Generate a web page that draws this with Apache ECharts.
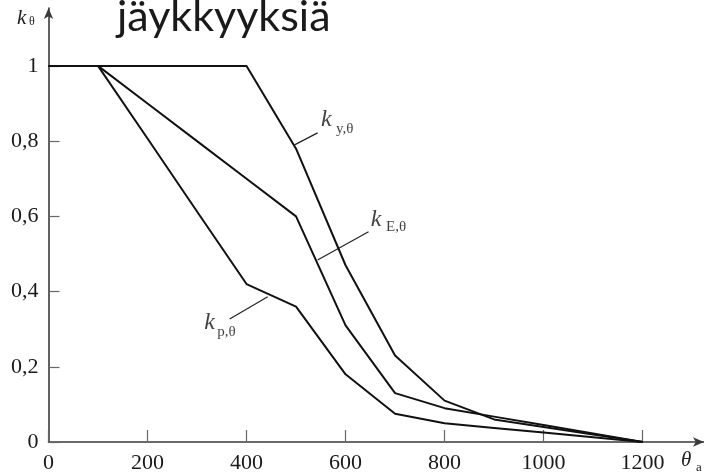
<!DOCTYPE html>
<html>
<head>
<meta charset="utf-8">
<script src="https://cdn.jsdelivr.net/npm/echarts@6/dist/echarts.min.js"></script>
<style>
html,body{margin:0;padding:0;background:#fff;}
#c{width:704px;height:475px;}
</style>
</head>
<body>
<div id="c"></div>
<script>
// Temperatures (°C)
const temps = [0, 100, 200, 300, 400, 500, 600, 700, 800, 900, 1000, 1100, 1200];
// Reduction factors
const kY = [1, 1, 1, 1, 1, 0.78, 0.47, 0.23, 0.11, 0.06, 0.04, 0.02, 0];
const kP = [1, 1, 0.807, 0.613, 0.42, 0.36, 0.18, 0.075, 0.05, 0.0375, 0.025, 0.0125, 0];
const kE = [1, 1, 0.9, 0.8, 0.7, 0.6, 0.31, 0.13, 0.09, 0.0675, 0.045, 0.0225, 0];
// Axis tick labels
const xTicks = [0, 200, 400, 600, 800, 1000, 1200];
const yTicks = [0, 0.2, 0.4, 0.6, 0.8, 1];
// Annotation leaders (data coordinates)
const leaderY = [[497, 0.790], [543.5, 0.822]];
const leaderE = [[543.5, 0.484], [646.4, 0.559]];
const leaderP = [[366, 0.327], [442.7, 0.386]];
// Annotation texts (data coordinates)
const annoMain = [[551.6, 0.856, 'k'], [652, 0.590, 'k'], [315.7, 0.316, 'k']];
const annoSub = [[581.9, 0.830, 'y,θ'], [682.7, 0.569, 'E,θ'], [341.9, 0.290, 'p,θ']];

const pair = (xs, ys) => xs.map((x, i) => [x, ys[i]]);
const serif = '"Liberation Serif", "DejaVu Serif", serif';

const chart = echarts.init(document.getElementById('c'));
const curve = (name, ys) => ({
  name, type: 'line', data: pair(temps, ys), symbol: 'none', smooth: false,
  lineStyle: {color: '#111', width: 2}, z: 3, silent: true
});
const leader = (d) => ({
  type: 'line', data: d, symbol: 'none',
  lineStyle: {color: '#222', width: 1.2}, z: 2, silent: true
});
chart.setOption({
  animation: false,
  backgroundColor: '#fff',
  grid: {left: 48.5, top: 8, width: 656, height: 434, containLabel: false},
  xAxis: {
    type: 'value', min: 0, max: 1324, interval: 200,
    axisLine: {show: true, lineStyle: {color: '#3a3a3a', width: 1.6}, symbol: ['none', 'arrow'], symbolSize: [7, 11]},
    axisTick: {show: true, inside: true, length: 12, lineStyle: {color: '#666', width: 1.2}},
    axisLabel: {
      color: '#1a1a1a', fontFamily: serif, fontSize: 22, margin: 10, showMaxLabel: false,
      formatter: v => xTicks.includes(v) ? String(v) : ''
    },
    splitLine: {show: false}
  },
  yAxis: {
    type: 'value', min: 0, max: 1.154, interval: 0.2,
    axisLine: {show: true, lineStyle: {color: '#3a3a3a', width: 1.6}, symbol: ['none', 'arrow'], symbolSize: [7, 11]},
    axisTick: {show: true, inside: true, length: 11, lineStyle: {color: '#666', width: 1.2}},
    axisLabel: {
      color: '#1a1a1a', fontFamily: serif, fontSize: 22, margin: 10, showMaxLabel: false,
      formatter: v => {
        const t = yTicks.find(y => Math.abs(y - v) < 1e-6);
        return t === undefined ? '' : String(t).replace('.', ',');
      }
    },
    splitLine: {show: false}
  },
  series: [
    curve('ky', kY), curve('kp', kP), curve('kE', kE),
    leader(leaderY), leader(leaderE), leader(leaderP),
    {
      type: 'scatter', data: annoMain, symbolSize: 1, itemStyle: {color: 'transparent'}, silent: true,
      label: {show: true, position: [0, 0], align: 'left', verticalAlign: 'middle',
        formatter: p => p.data[2], fontFamily: serif, fontStyle: 'italic', fontSize: 24, color: '#111'}
    },
    {
      type: 'scatter', data: annoSub, symbolSize: 1, itemStyle: {color: 'transparent'}, silent: true,
      label: {show: true, position: [0, 0], align: 'left', verticalAlign: 'middle',
        formatter: p => p.data[2], fontFamily: serif, fontSize: 15, color: '#111'}
    }
  ],
  graphic: [
    {type: 'text', left: 117, top: -4, style: {text: 'jäykkyyksiä', font: '43px Lato, "Open Sans", sans-serif', fill: '#1a1a1a'}},
    {type: 'text', left: 17, top: 8, style: {text: 'k', font: 'italic 21px ' + serif, fill: '#222'}},
    {type: 'text', left: 29, top: 16, style: {text: 'θ', font: '12px ' + serif, fill: '#222'}},
    {type: 'text', left: 681, top: 450, style: {text: 'θ', font: 'italic 21px ' + serif, fill: '#222'}},
    {type: 'text', left: 696, top: 461, style: {text: 'a', font: '13px ' + serif, fill: '#222'}}
  ]
});
</script>
</body>
</html>
